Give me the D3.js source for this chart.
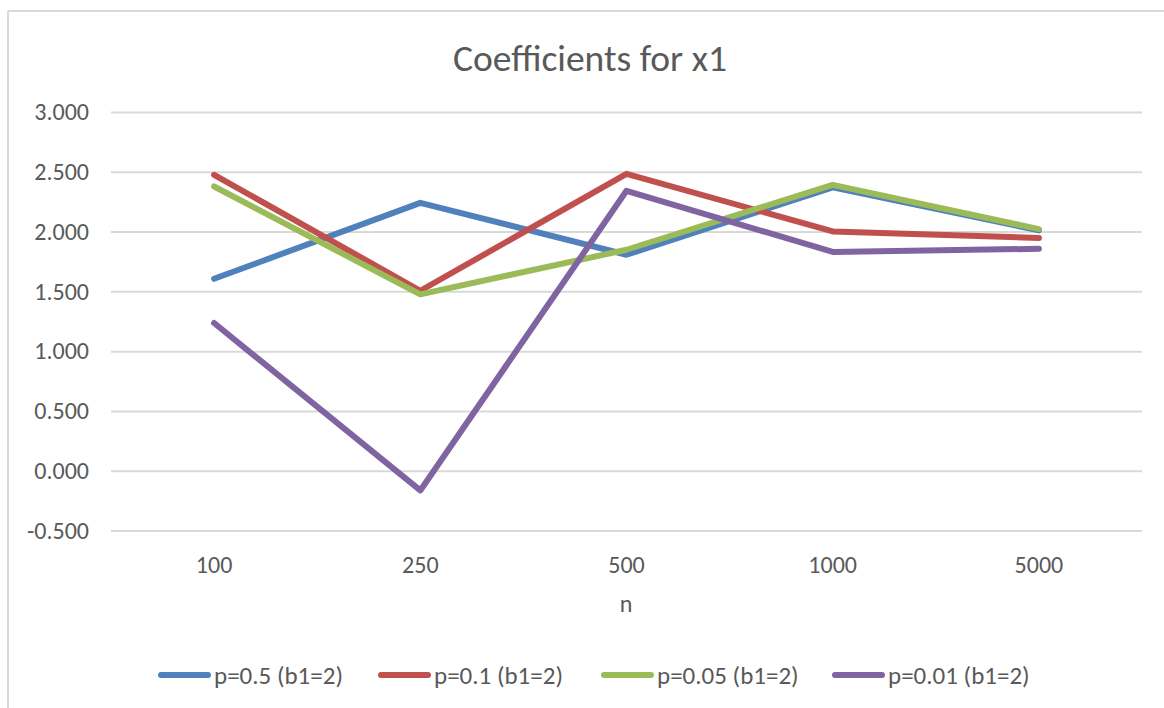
<!DOCTYPE html>
<html>
<head>
<meta charset="utf-8">
<script src="https://cdn.jsdelivr.net/npm/d3@7"></script>
<style>
  html, body { margin: 0; padding: 0; background: #fff; }
  svg { display: block; }
  text { font-family: Carlito, Lato, "Open Sans", sans-serif; fill: #595959; }
</style>
</head>
<body>
<svg id="chart" width="1164" height="708"></svg>
<script>
const categories = ["100", "250", "500", "1000", "5000"];
const seriesNames = ["p=0.5 (b1=2)", "p=0.1 (b1=2)", "p=0.05 (b1=2)", "p=0.01 (b1=2)"];
const p05  = [1.605, 2.240, 1.806, 2.370, 2.010];
const p01  = [2.475, 1.505, 2.483, 2.001, 1.946];
const p005 = [2.377, 1.475, 1.848, 2.391, 2.021];
const p001 = [1.235, -0.165, 2.341, 1.830, 1.856];
const yTicks = [-0.5, 0, 0.5, 1, 1.5, 2, 2.5, 3];
const colors = ["#4F81BD", "#C0504D", "#9BBB59", "#8064A2"];
const title = "Coefficients for x1";
const xTitle = "n";

const series = [p05, p01, p005, p001].map((vals, i) => ({ name: seriesNames[i], color: colors[i], values: vals }));

const svg = d3.select("#chart");

// outer chart border (top + left visible)
svg.append("line").attr("x1", 8).attr("x2", 1164).attr("y1", 11).attr("y2", 11)
  .attr("stroke", "#d9d9d9").attr("stroke-width", 2);
svg.append("line").attr("x1", 8).attr("x2", 8).attr("y1", 11).attr("y2", 708)
  .attr("stroke", "#d9d9d9").attr("stroke-width", 2);

const x = d3.scaleBand().domain(categories).range([111, 1142]).padding(0);
const y = d3.scaleLinear().domain([-0.5, 3]).range([530.5, 112]);

// gridlines + y labels
const yAxis = d3.axisLeft(y).tickValues(yTicks).tickSize(-(1142 - 111)).tickPadding(22)
  .tickFormat(d3.format(".3f"));
const gy = svg.append("g").attr("transform", "translate(111,0)").call(yAxis);
gy.select(".domain").remove();
gy.selectAll(".tick line").attr("stroke", "#d9d9d9").attr("stroke-width", 2);
gy.selectAll(".tick text").attr("font-size", 24).attr("fill", "#595959")
  .style("font-family", "Carlito, Lato, sans-serif").text(d => d3.format(".3f")(d).replace("−", "-"));

// x axis labels
const xAxis = d3.axisBottom(x).tickSize(0).tickPadding(25);
const gx = svg.append("g").attr("transform", "translate(0,530.5)").call(xAxis);
gx.select(".domain").remove();
gx.selectAll(".tick text").attr("font-size", 24).attr("fill", "#595959")
  .style("font-family", "Carlito, Lato, sans-serif");

// lines
const line = d3.line().x((d, i) => x(categories[i]) + x.bandwidth() / 2).y(d => y(d));
svg.append("g").selectAll("path").data(series).join("path")
  .attr("d", d => line(d.values))
  .attr("fill", "none")
  .attr("stroke", d => d.color)
  .attr("stroke-width", 6)
  .attr("stroke-linejoin", "round")
  .attr("stroke-linecap", "round");

// title
svg.append("text").attr("x", 590).attr("y", 71).attr("text-anchor", "middle")
  .attr("font-size", 37.5).text(title);

// x axis title
svg.append("text").attr("x", 626).attr("y", 612).attr("text-anchor", "middle")
  .attr("font-size", 24).text(xTitle);

// legend
const legendX = [158, 378, 601, 832];
const lg = svg.append("g").selectAll("g").data(series).join("g")
  .attr("transform", (d, i) => `translate(${legendX[i]},675)`);
lg.append("line").attr("x1", 3).attr("x2", 50).attr("y1", 0).attr("y2", 0)
  .attr("stroke", d => d.color).attr("stroke-width", 6).attr("stroke-linecap", "round");
lg.append("text").attr("x", 56).attr("y", 9).attr("font-size", 25).text(d => d.name);
</script>
</body>
</html>
